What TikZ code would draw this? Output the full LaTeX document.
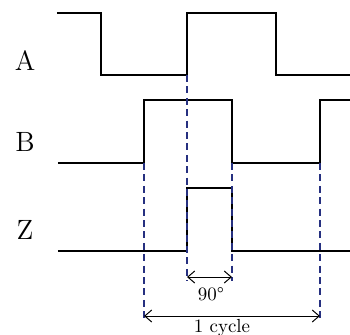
\documentclass[tikz,border=0pt]{standalone}
\usetikzlibrary{arrows.meta}
\definecolor{markblue}{RGB}{38,48,128}
\begin{document}
\begin{tikzpicture}[x=0.5bp, y=-0.5bp,
  signal/.style={line width=1.1bp, line join=miter},
  marker/.style={markblue, line width=1.4bp, dash pattern=on 3.5bp off 2.2bp},
  span/.style={{Straight Barb[length=3.5bp,width=6bp]}-{Straight Barb[length=3.5bp,width=6bp]}, line width=0.5bp},
  chan/.style={font=\fontsize{14}{16}\selectfont},
  note/.style={font=\fontsize{9.5}{11}\selectfont, inner sep=1bp}]
\useasboundingbox (0,0) rectangle (350,335);

% Channel names
\node[chan] (nameA) at (25,61) {A};
\node[chan] (nameB) at (25,142) {B};
\node[chan] (nameZ) at (25,230) {Z};

% Waveforms
\draw[signal] (57,13) -- (101,13) -- (101,75) -- (187,75) -- (187,13) -- (276,13) -- (276,75) -- (350,75);
\draw[signal] (58,163) -- (144,163) -- (144,100) -- (232,100) -- (232,163) -- (320,163) -- (320,100) -- (350,100);
\draw[signal] (58,251) -- (187,251) -- (187,188) -- (232,188) -- (232,251) -- (350,251);

% Edge markers
\coordinate (riseA) at (187,75);
\coordinate (fallB) at (232,163);
\coordinate (riseB) at (144,163);
\coordinate (nextB) at (320,163);
\coordinate (qL) at (187,277);
\coordinate (qR) at (232,277);
\coordinate (cL) at (144,316);
\coordinate (cR) at (320,316);
\draw[marker] (riseA) -- (187,281);
\draw[marker] (fallB) -- (232,281);
\draw[marker] (riseB) -- (144,319);
\draw[marker] (nextB) -- (320,319);

% Dimensions
\draw[span] (qL) -- (qR);
\node[note] (quarter) at (211,294) {90\textdegree};
\draw[span] (cL) -- (cR);
\node[note] (cycle) at (222,328) {1 cycle};
\end{tikzpicture}
\end{document}
